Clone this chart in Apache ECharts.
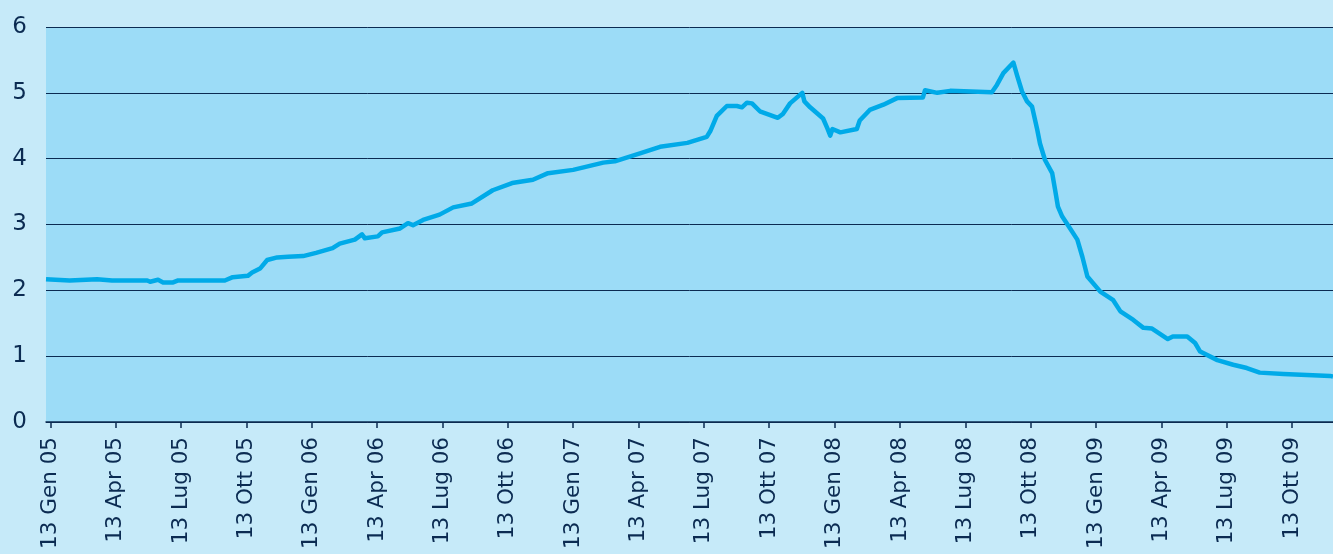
<!DOCTYPE html>
<html>
<head>
<meta charset="utf-8">
<script src="https://cdn.jsdelivr.net/npm/echarts@6/dist/echarts.min.js"></script>
<style>
html,body{margin:0;padding:0;background:#c6eaf9;}
#chart{width:1333px;height:554px;}
</style>
</head>
<body>
<div id="chart"></div>
<script>
// Day offsets (daily category axis, day 0 = left edge of plot) and rate values (%)
const knotDays = [0,33,71,92,141,145,156,163,177,184,249,260,281,287,298,308,322,337,358,376,399,409,430,440,444,462,468,493,504,511,525,548,567,593,622,649,678,699,734,776,792,827,855,893,920,925,934,948,962,969,976,983,994,1019,1026,1036,1053,1056,1064,1082,1088,1092,1095,1106,1129,1133,1147,1166,1185,1221,1224,1241,1259,1317,1324,1333,1347,1352,1359,1366,1373,1380,1384,1391,1401,1405,1409,1415,1423,1436,1443,1450,1468,1486,1496,1514,1528,1540,1562,1569,1589,1600,1607,1631,1653,1672,1690,1723,1788,1792];
const rates = [2.17,2.15,2.17,2.15,2.15,2.13,2.16,2.12,2.12,2.15,2.15,2.20,2.22,2.27,2.33,2.46,2.50,2.51,2.52,2.57,2.64,2.71,2.77,2.85,2.79,2.82,2.88,2.94,3.02,2.99,3.07,3.15,3.26,3.32,3.52,3.63,3.68,3.78,3.83,3.94,3.96,4.08,4.18,4.24,4.33,4.42,4.65,4.80,4.80,4.78,4.85,4.84,4.72,4.62,4.68,4.84,5.00,4.87,4.78,4.61,4.46,4.35,4.45,4.40,4.45,4.58,4.74,4.82,4.92,4.93,5.04,5.00,5.03,5.01,5.12,5.30,5.46,5.27,5.02,4.87,4.79,4.45,4.23,3.98,3.78,3.53,3.27,3.12,2.99,2.77,2.51,2.21,1.98,1.85,1.68,1.55,1.43,1.42,1.26,1.30,1.30,1.20,1.07,0.94,0.87,0.82,0.75,0.73,0.70,0.69];
const tickLabels = ['13 Gen 05','13 Apr 05','13 Lug 05','13 Ott 05','13 Gen 06','13 Apr 06','13 Lug 06','13 Ott 06','13 Gen 07','13 Apr 07','13 Lug 07','13 Ott 07','13 Gen 08','13 Apr 08','13 Lug 08','13 Ott 08','13 Gen 09','13 Apr 09','13 Lug 09','13 Ott 09'];
const firstTickDay = 6;
const daysPerTick = 91;
const totalDays = 1793;

const categories = [];
for (let i = 0; i < totalDays; i++) categories.push(String(i));
const seriesData = knotDays.map((d, i) => [d, rates[i]]);

const navy = '#0b2b52';
const isTick = (idx) => idx >= firstTickDay && (idx - firstTickDay) % daysPerTick === 0 && (idx - firstTickDay) / daysPerTick < tickLabels.length;

const chart = echarts.init(document.getElementById('chart'), null, {renderer: 'canvas'});
chart.setOption({
  animation: false,
  backgroundColor: '#c6eaf9',
  textStyle: {fontFamily: 'DejaVu Sans'},
  grid: {left: 46, right: 0, top: 27, bottom: 132, show: true, backgroundColor: '#9cdcf7', borderWidth: 0},
  xAxis: {
    type: 'category',
    data: categories,
    boundaryGap: false,
    axisLine: {lineStyle: {color: navy, width: 1.5}},
    axisTick: {show: true, interval: (idx) => isTick(idx), length: 6, lineStyle: {color: navy, width: 1.5}},
    axisLabel: {
      interval: (idx) => isTick(idx),
      rotate: 90,
      margin: 15,
      color: navy,
      fontSize: 21.5,
      fontFamily: 'DejaVu Sans',
      formatter: (v, idx) => tickLabels[(idx - firstTickDay) / daysPerTick]
    },
    splitLine: {show: false}
  },
  yAxis: {
    type: 'value',
    min: 0, max: 6, interval: 1,
    axisLine: {show: false},
    axisTick: {show: false},
    axisLabel: {color: navy, fontSize: 23, fontFamily: 'DejaVu Sans', margin: 19},
    splitLine: {lineStyle: {color: navy, width: 1}}
  },
  series: [{
    type: 'line',
    data: seriesData,
    showSymbol: false,
    symbol: 'none',
    smooth: false,
    lineStyle: {color: '#00aae8', width: 4.5, join: 'round'}
  }]
});
</script>
</body>
</html>
